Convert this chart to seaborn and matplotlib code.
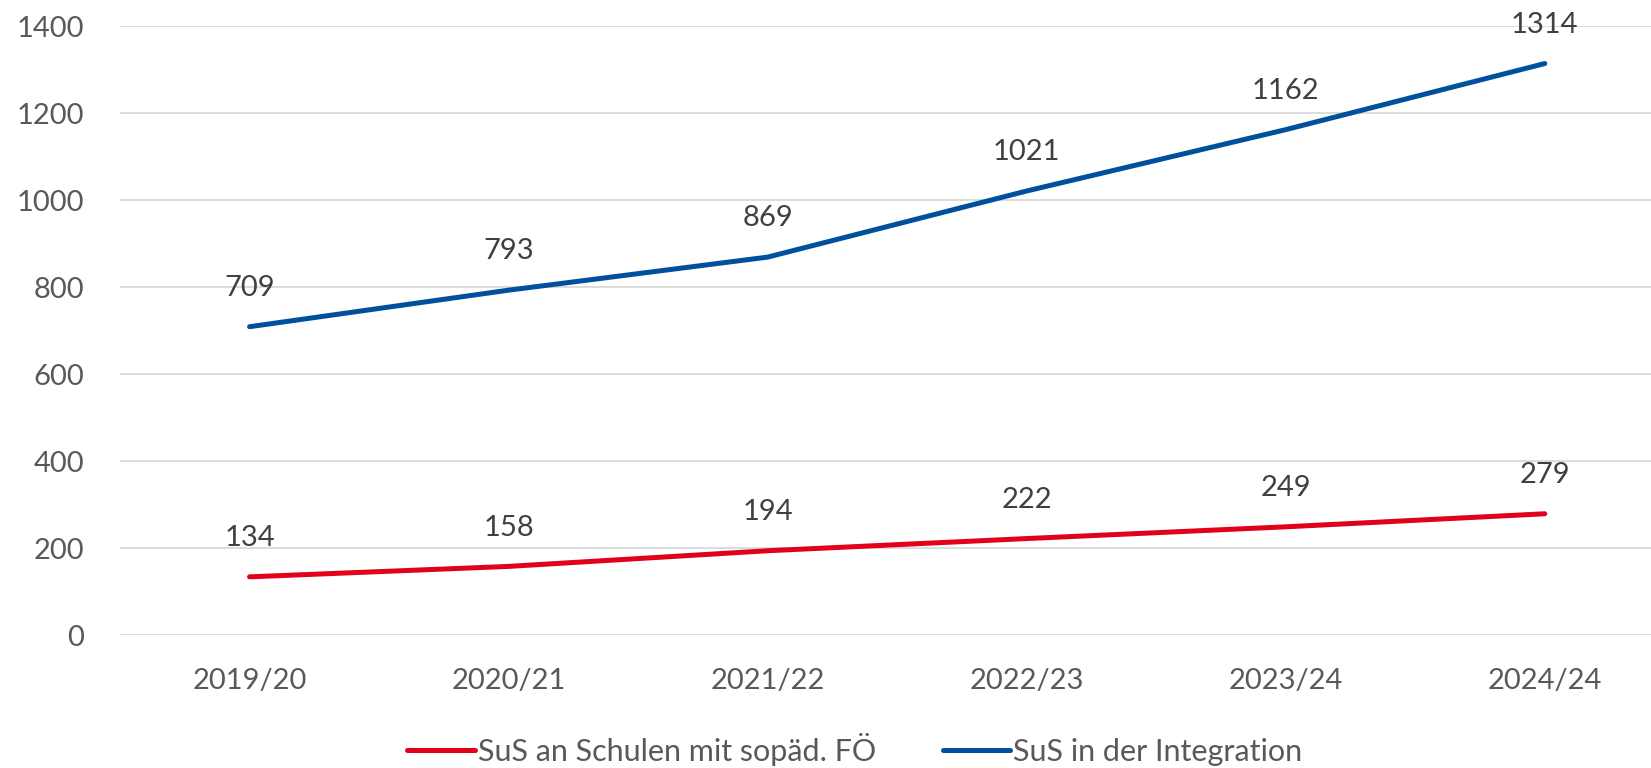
import matplotlib
matplotlib.use("Agg")
import matplotlib.pyplot as plt
import seaborn as sns
import pandas as pd

years = ["2019/20", "2020/21", "2021/22", "2022/23", "2023/24", "2024/24"]
sopaed = [134, 158, 194, 222, 249, 279]
integration = [709, 793, 869, 1021, 1162, 1314]
series_names = ["SuS an Schulen mit sopäd. FÖ", "SuS in der Integration"]

df = pd.DataFrame({
    "Jahr": years * 2,
    "Anzahl": sopaed + integration,
    "Gruppe": [series_names[0]] * len(years) + [series_names[1]] * len(years),
})

sns.set_style("white")
plt.rcParams["font.family"] = ["Lato", "DejaVu Sans"]
grey = "#595959"
palette = {series_names[0]: "#E2001A", series_names[1]: "#00509E"}

fig = plt.figure(figsize=(16.51, 7.68), dpi=100)
ax = fig.add_axes([0.0727, 0.173, 0.9273, 0.793])
sns.lineplot(data=df, x="Jahr", y="Anzahl", hue="Gruppe", palette=palette,
             linewidth=3.6, sort=False, ax=ax, solid_capstyle="round")

for name, vals in zip(series_names, [sopaed, integration]):
    for i, v in enumerate(vals):
        ax.annotate(str(v), (i, v), xytext=(0, 28), textcoords="offset points",
                    ha="center", va="center", fontsize=21, color="#404040")

ax.set_ylim(0, 1400)
ax.set_xlim(-0.5, 5.41)
ax.set_yticks(range(0, 1401, 200))
ax.yaxis.grid(True, color="#d9d9d9", linewidth=1.3)
ax.set_axisbelow(True)
for s in ax.spines.values():
    s.set_visible(False)
ax.tick_params(axis="both", length=0, labelsize=21, labelcolor=grey)
ax.tick_params(axis="y", pad=26)
ax.tick_params(axis="x", pad=24)
ax.set_xlabel("")
ax.set_ylabel("")

ax.legend(loc="lower center", bbox_to_anchor=(0.48, -0.26), ncol=2, frameon=False,
          fontsize=22, labelcolor=grey, handlelength=2.2, handletextpad=0.1,
          columnspacing=2.2)

fig.savefig("out.png", dpi=100)
